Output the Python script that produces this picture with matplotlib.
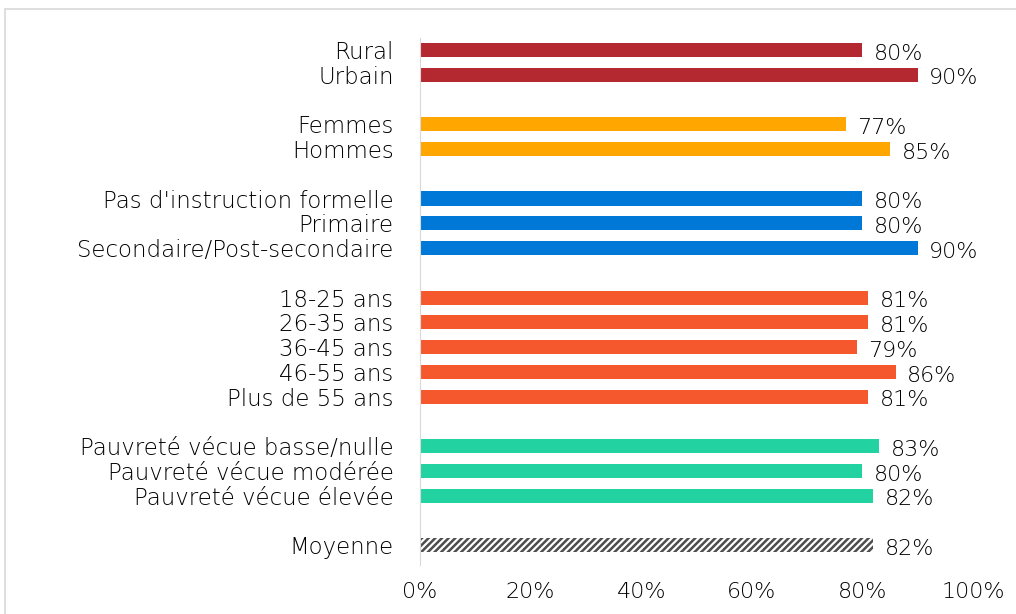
import matplotlib.pyplot as plt
from matplotlib.patches import Rectangle

plt.rcParams["font.family"] = ["DejaVu Sans"]
plt.rcParams["font.weight"] = "light"
plt.rcParams["hatch.linewidth"] = 1.8

# Data, top to bottom, one list per group
groups = [
    (["Rural", "Urbain"], [80, 90], "#B4292F"),
    (["Femmes", "Hommes"], [77, 85], "#FFA600"),
    (["Pas d'instruction formelle", "Primaire", "Secondaire/Post-secondaire"],
     [80, 80, 90], "#0078D7"),
    (["18-25 ans", "26-35 ans", "36-45 ans", "46-55 ans", "Plus de 55 ans"],
     [81, 81, 79, 86, 81], "#F5582D"),
    (["Pauvreté vécue basse/nulle", "Pauvreté vécue modérée", "Pauvreté vécue élevée"],
     [83, 80, 82], "#22D2A0"),
]
avg_label = "Moyenne"
avg_value = 82

fig = plt.figure(figsize=(10.16, 6.14), dpi=100)
ax = fig.add_axes([420 / 1016, 1 - 565 / 614, 553 / 1016, (565 - 37.6) / 614])

# outer chart border
fig.patches.append(Rectangle((5 / 1016, -0.1), 1.2, 1.1 - 9 / 614,
                             transform=fig.transFigure, fill=False,
                             edgecolor="#D9D9D9", linewidth=1.2))

labels = []
positions = []
pos = 0
for names, vals, color in groups:
    for name, v in zip(names, vals):
        ax.barh(pos, v, height=0.57, color=color)
        ax.text(v + 2.1, pos + 0.15, f"{v}%", va="center", ha="left",
                fontsize=16, color="black")
        labels.append(name)
        positions.append(pos)
        pos += 1
    pos += 1

ax.barh(pos, avg_value, height=0.57, color="white", edgecolor="#4D4D4D",
        hatch="/////", linewidth=0)
ax.text(avg_value + 2.1, pos + 0.15, f"{avg_value}%", va="center", ha="left",
        fontsize=16, color="black")
labels.append(avg_label)
positions.append(pos)

ax.set_yticks(positions)
ax.set_yticklabels(labels, fontsize=16.5, color="black")
ax.set_ylim(20.8, -0.5)
ax.set_xlim(0, 100)
ax.set_xticks(range(0, 101, 20))
ax.set_xticklabels([f"{t}%" for t in range(0, 101, 20)], fontsize=16, color="black")
ax.tick_params(axis="both", length=0)
ax.tick_params(axis="y", pad=19)
ax.tick_params(axis="x", pad=12)
for s in ["top", "right", "bottom"]:
    ax.spines[s].set_visible(False)
ax.spines["left"].set_color("#D9D9D9")

fig.savefig("out.png", dpi=100)
